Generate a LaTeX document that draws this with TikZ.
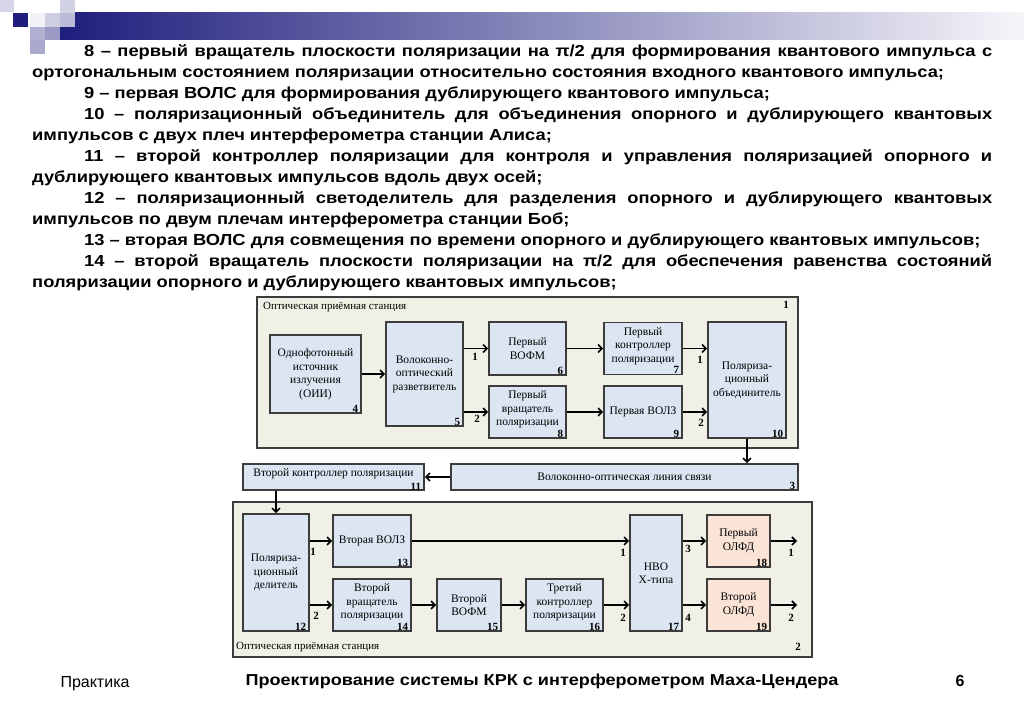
\documentclass[tikz,border=0pt]{standalone}
\usepackage{fontspec}
\setmainfont{Liberation Sans}
\newfontfamily\bodyfont{Liberation Sans}[FakeStretch=1.145]
\newfontfamily\dgfont{Liberation Serif}
\usepackage{xcolor}
\usepackage{tikz}
\usetikzlibrary{arrows.meta,positioning,calc}
\definecolor{navyc}{RGB}{30,30,125}
\definecolor{boxc}{RGB}{220,230,242}
\definecolor{olfdc}{RGB}{250,228,214}
\definecolor{stc}{RGB}{240,240,230}
\definecolor{linec}{RGB}{60,60,60}

\begin{document}
\begin{tikzpicture}[x=1pt,y=-1pt,>={Straight Barb[length=4pt,width=8pt]},
  station/.style={draw=linec,fill=stc,line width=1.8pt},
  blk/.style={draw=linec,fill=boxc,line width=1.6pt,inner sep=1pt,align=center,
    font=\dgfont\fontsize{11.5}{13.5}\selectfont},
  up/.style={text depth=7pt},
  num/.style={font=\dgfont\bfseries\fontsize{11}{12}\selectfont,inner xsep=3.5pt,inner ysep=1.2pt},
  lbl/.style={font=\dgfont\bfseries\fontsize{11}{12}\selectfont,inner sep=0pt},
  stlbl/.style={font=\dgfont\fontsize{11}{12}\selectfont,inner sep=0pt,anchor=west},
  arr/.style={->,line width=1.6pt}]
  \useasboundingbox[fill=white] (0,0) rectangle (1024,708);
  % slide decoration
  \shade[left color=navyc,right color=white!96!navyc] (60,13) rectangle (1024,40);
  \fill[navyc!18] (0,0) rectangle (14,12);
  \fill[navyc!20] (60,0) rectangle (75,13);
  \fill[navyc] (13,13) rectangle (28,27);
  \fill[navyc!6] (30,13) rectangle (45,27);
  \fill[navyc!22] (45,13) rectangle (60,27);
  \fill[navyc!30] (60,13) rectangle (75,27);
  \fill[navyc!35] (30,27) rectangle (45,40);
  \fill[navyc!45] (45,27) rectangle (60,40);
  \fill[navyc!38] (30,40) rectangle (45,54);
  % legend text
  \node[anchor=north west,inner sep=0pt,text width=960pt,align=justify,
    font=\bodyfont\bfseries\fontsize{16}{21}\selectfont] (desc) at (32,44) {%
    \hyphenpenalty=10000\emergencystretch=20pt
    \hspace*{52pt}8 – первый вращатель плоскости поляризации на π/2 для формирования квантового импульса с\linebreak
    ортогональным состоянием поляризации относительно состояния входного квантового импульса;\par
    \hspace*{52pt}9 – первая ВОЛС для формирования дублирующего квантового импульса;\par
    \hspace*{52pt}10 – поляризационный объединитель для объединения опорного и дублирующего квантовых\linebreak
    импульсов с двух плеч интерферометра станции Алиса;\par
    \hspace*{52pt}11 – второй контроллер поляризации для контроля и управления поляризацией опорного и\linebreak
    дублирующего квантовых импульсов вдоль двух осей;\par
    \hspace*{52pt}12 – поляризационный светоделитель для разделения опорного и дублирующего квантовых\linebreak
    импульсов по двум плечам интерферометра станции Боб;\par
    \hspace*{52pt}13 – вторая ВОЛС для совмещения по времени опорного и дублирующего квантовых импульсов;\par
    \hspace*{52pt}14 – второй вращатель плоскости поляризации на π/2 для обеспечения равенства состояний\linebreak
    поляризации опорного и дублирующего квантовых импульсов;};
  % transmitting station
  \draw[station] (257,297) rectangle (798,448);
  \node[stlbl] (st1) at (263,307) {Оптическая приёмная станция};
  \node[lbl] at (786,305) {1};
  \node[blk,minimum width=91pt,minimum height=78pt] (b4) at (315.5,374) {Однофотонный\\источник\\излучения\\(ОИИ)};
  \node[blk,minimum width=77pt,minimum height=104pt] (b5) at (424.5,374) {Волоконно-\\оптический\\разветвитель};
  \node[blk,minimum width=77pt,minimum height=53pt] (b6) at (527.5,348.5) {Первый\\ВОФМ};
  \node[blk,up,minimum width=77pt,minimum height=52pt] (b8) at (527.5,412) {Первый\\вращатель\\поляризации};
  \node[blk,up,minimum width=78pt,minimum height=52pt] (b7) at (643,348.5) {Первый\\контроллер\\поляризации};
  \node[blk,minimum width=78pt,minimum height=52pt] (b9) at (643,412) {Первая ВОЛЗ};
  \node[blk,minimum width=78pt,minimum height=116pt] (b10) at (747,380) {Поляриза-\\ционный\\объединитель};
  \foreach \b/\n in {b4/4,b5/5,b6/6,b7/7,b8/8,b9/9,b10/10}
    \node[num,anchor=south east] at (\b.south east) {\n};
  \draw[arr] (b4) -- (b5);
  \draw[arr] (b5.east |- b6) -- (b6.west);
  \draw[arr] (b5.east |- b8) -- (b8.west);
  \draw[arr] (b6.east) -- (b6.east -| b7.west);
  \draw[arr] (b8.east) -- (b8.east -| b9.west);
  \draw[arr] (b7.east) -- (b7.east -| b10.west);
  \draw[arr] (b9.east) -- (b9.east -| b10.west);
  \node[lbl] at (475,357) {1};
  \node[lbl] at (477,419) {2};
  \node[lbl] at (700,360) {1};
  \node[lbl] at (701,423) {2};
  % line and controller
  \node[blk,minimum width=347pt,minimum height=26pt] (b3) at (624.5,477) {Волоконно-оптическая линия связи};
  \node[num,anchor=south east] at (b3.south east) {3};
  \node[blk,minimum width=181pt,minimum height=26pt] (b11) at (333.5,477) {};
  \node[font=\dgfont\fontsize{11.5}{13.5}\selectfont,inner sep=0pt] at (333.5,474) {Второй контроллер поляризации};
  \node[num,anchor=south east,inner ysep=0.5pt] at (b11.south east) {11};
  \draw[arr] (b10.south) -- (b10.south |- b3.north);
  \draw[arr] (b3.west) -- (b11.east);
  % receiving station
  \draw[station] (233,502) rectangle (812,657);
  \node[stlbl] (st2) at (236,647) {Оптическая приёмная станция};
  \node[lbl] at (798,647) {2};
  \node[blk,minimum width=66pt,minimum height=117pt] (b12) at (276,572.5) {Поляриза-\\ционный\\делитель};
  \node[blk,minimum width=78pt,minimum height=52pt] (b13) at (372,541) {Вторая ВОЛЗ};
  \node[blk,up,minimum width=78pt,minimum height=52pt] (b14) at (372,605) {Второй\\вращатель\\поляризации};
  \node[blk,minimum width=64pt,minimum height=52pt] (b15) at (469,605) {Второй\\ВОФМ};
  \node[blk,up,minimum width=77pt,minimum height=52pt] (b16) at (564.5,605) {Третий\\контроллер\\поляризации};
  \node[blk,minimum width=52pt,minimum height=116pt] (b17) at (656,573) {НВО\\X-типа};
  \node[blk,fill=olfdc,minimum width=63pt,minimum height=52pt] (b18) at (738.5,541) {Первый\\ОЛФД};
  \node[blk,fill=olfdc,minimum width=63pt,minimum height=52pt] (b19) at (738.5,605) {Второй\\ОЛФД};
  \foreach \b/\n in {b12/12,b13/13,b14/14,b15/15,b16/16,b17/17,b18/18,b19/19}
    \node[num,anchor=south east] at (\b.south east) {\n};
  \coordinate (o1) at (797,541);
  \coordinate (o2) at (797,605);
  \draw[arr] (b11.south -| b12.north) -- (b12.north);
  \draw[arr] (b12.east |- b13) -- (b13.west);
  \draw[arr] (b12.east |- b14) -- (b14.west);
  \draw[arr] (b13.east) -- (b13.east -| b17.west);
  \draw[arr] (b14) -- (b15);
  \draw[arr] (b15) -- (b16);
  \draw[arr] (b16.east) -- (b16.east -| b17.west);
  \draw[arr] (b17.east |- b18) -- (b18.west);
  \draw[arr] (b17.east |- b19) -- (b19.west);
  \draw[arr] (b18.east) -- (o1);
  \draw[arr] (b19.east) -- (o2);
  \node[lbl] at (313,552) {1};
  \node[lbl] at (316,616) {2};
  \node[lbl] at (623,553) {1};
  \node[lbl] at (623,618) {2};
  \node[lbl] at (688,549) {3};
  \node[lbl] at (688,618) {4};
  \node[lbl] at (791,553) {1};
  \node[lbl] at (791,618) {2};
  % footer
  \node[font=\fontsize{16}{18}\selectfont] (foot) at (95,684) {Практика};
  \node[font=\bodyfont\bfseries\fontsize{15.8}{18}\selectfont] (title) at (542,681) {Проектирование системы КРК с интерферометром Маха-Цендера};
  \node[font=\bfseries\fontsize{16}{18}\selectfont] (page) at (960,681) {6};
\end{tikzpicture}
\end{document}
